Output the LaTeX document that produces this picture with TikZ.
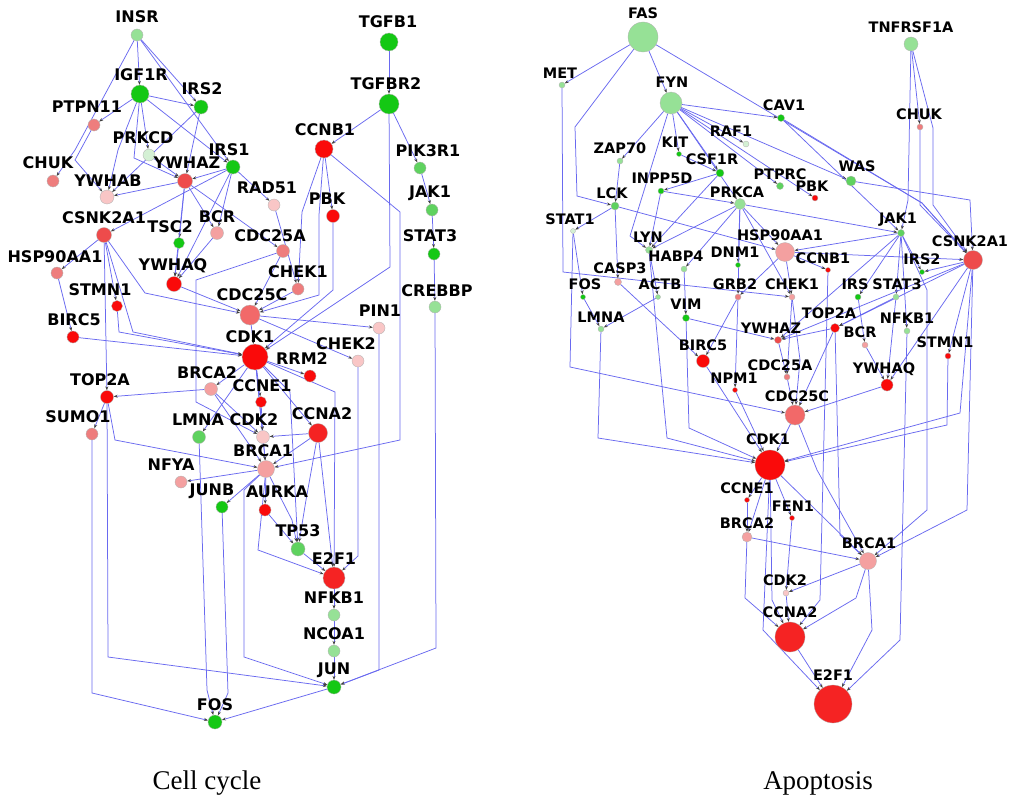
\documentclass[tikz,border=0pt]{standalone}
\usepackage{fontspec}
\setmainfont{Liberation Serif}
\newfontfamily\labfont{DejaVu Sans}
\usetikzlibrary{arrows.meta}
\definecolor{edgec}{RGB}{105,105,240}
\definecolor{gA}{RGB}{20,200,20}
\definecolor{gB}{RGB}{95,210,95}
\definecolor{gC}{RGB}{150,225,150}
\definecolor{gD}{RGB}{212,240,212}
\definecolor{rA}{RGB}{250,10,10}
\definecolor{rB}{RGB}{238,75,75}
\definecolor{rC}{RGB}{238,125,125}
\definecolor{rD}{RGB}{244,160,160}
\definecolor{rE}{RGB}{249,198,198}
\definecolor{rF}{RGB}{242,105,105}
\definecolor{rG}{RGB}{245,35,35}
\pgfdeclarelayer{bg}
\pgfsetlayers{bg,main}
\tikzset{
  gene/.style={circle, inner sep=0pt, draw=black!30, line width=0.3pt},
  lab/.style={font=\labfont\bfseries\fontsize{16}{16}\selectfont, inner sep=0pt, text=black},
  ed/.style={draw=edgec, line width=0.75pt, -{Stealth[length=4pt,width=3pt,color=black!75]}},
  captext/.style={font=\fontsize{27}{28}\selectfont, inner sep=0pt, anchor=base}
}
\newcommand{\genenode}[8]{%
  \node[gene,minimum size=#4pt,fill=#5] (#1) at (#2,#3) {};
  \node[lab] (l#1) at (#6,#7) {#8};}
\newcommand{\edg}[2]{\draw[ed] (#1) -- (#2);}
\begin{document}
\begin{tikzpicture}[x=1pt,y=-1pt]
\useasboundingbox (0,0) rectangle (1012,800);
\begin{pgfonlayer}{bg}
\fill[white] (0,0) rectangle (1012,800);
\end{pgfonlayer}
% ---------------- Cell cycle ----------------
\genenode{aINSR}{137}{35}{12}{gC}{137}{17}{INSR}
\genenode{aIGF1R}{140}{94}{18}{gA}{141}{75}{IGF1R}
\genenode{aIRS2}{201}{107}{14}{gA}{202}{89}{IRS2}
\genenode{aPTPN11}{94}{125}{12}{rC}{87}{107}{PTPN11}
\genenode{aPRKCD}{149}{155}{12}{gD}{143}{138}{PRKCD}
\genenode{aIRS1}{233}{167}{14}{gA}{229}{150}{IRS1}
\genenode{aYWHAZ}{185}{181}{15}{rB}{187}{163}{YWHAZ}
\genenode{aCHUK}{53}{181}{12}{rC}{48}{163}{CHUK}
\genenode{aYWHAB}{107}{197}{14}{rE}{108}{181}{YWHAB}
\genenode{aRAD51}{274}{205}{12}{rE}{267}{188}{RAD51}
\genenode{aPBK}{333}{216}{13}{rA}{327}{199}{PBK}
\genenode{aCSNK2A1}{104}{235}{15}{rB}{104}{218}{CSNK2A1}
\genenode{aTSC2}{179}{243}{11}{gA}{170}{227}{TSC2}
\genenode{aBCR}{217}{233}{13}{rD}{217}{217}{BCR}
\genenode{aCDC25A}{283}{251}{13}{rC}{270}{236}{CDC25A}
\genenode{aHSP90AA1}{57}{273}{12}{rC}{55}{257}{HSP90AA1}
\genenode{aYWHAQ}{174}{284}{15}{rA}{173}{266}{YWHAQ}
\genenode{aCHEK1}{298}{289}{12}{rC}{298}{272}{CHEK1}
\genenode{aSTMN1}{117}{306}{11}{rA}{100}{290}{STMN1}
\genenode{aCDC25C}{250}{315}{20}{rF}{252}{295}{CDC25C}
\genenode{aBIRC5}{73}{337}{12}{rA}{74}{320}{BIRC5}
\genenode{aPIN1}{379}{328}{12}{rE}{380}{311}{PIN1}
\genenode{aCDK1}{255}{357}{26}{rA}{250}{337}{CDK1}
\genenode{aCHEK2}{358}{361}{12}{rE}{346}{344}{CHEK2}
\genenode{aRRM2}{310}{376}{12}{rA}{302}{359}{RRM2}
\genenode{aTOP2A}{107}{397}{13}{rA}{100}{380}{TOP2A}
\genenode{aBRCA2}{211}{389}{13}{rD}{207}{373}{BRCA2}
\genenode{aCCNE1}{261}{402}{11}{rA}{262}{386}{CCNE1}
\genenode{aSUMO1}{92}{434}{12}{rC}{78}{417}{SUMO1}
\genenode{aLMNA}{199}{437}{13}{gB}{198}{420}{LMNA}
\genenode{aCDK2}{263}{437}{13}{rE}{254}{420}{CDK2}
\genenode{aCCNA2}{318}{433}{19}{rG}{322}{414}{CCNA2}
\genenode{aBRCA1}{266}{469}{17}{rD}{263}{451}{BRCA1}
\genenode{aNFYA}{181}{482}{12}{rD}{171}{465}{NFYA}
\genenode{aJUNB}{222}{507}{12}{gA}{212}{491}{JUNB}
\genenode{aAURKA}{265}{510}{12}{rA}{277}{492}{AURKA}
\genenode{aTP53}{298}{549}{14}{gB}{298}{531}{TP53}
\genenode{aE2F1}{334}{578}{22}{rG}{334}{559}{E2F1}
\genenode{aNFKB1}{334}{615}{12}{gC}{334}{598}{NFKB1}
\genenode{aNCOA1}{334}{651}{12}{gC}{334}{634}{NCOA1}
\genenode{aJUN}{334}{687}{14}{gA}{334}{670}{JUN}
\genenode{aFOS}{215}{722}{14}{gA}{215}{705}{FOS}
\genenode{aTGFB1}{389}{42}{18}{gA}{388}{22}{TGFB1}
\genenode{aTGFBR2}{389}{104}{20}{gA}{386}{84}{TGFBR2}
\genenode{aCCNB1}{324}{149}{18}{rA}{325}{130}{CCNB1}
\genenode{aPIK3R1}{420}{168}{12}{gB}{428}{151}{PIK3R1}
\genenode{aJAK1}{432}{210}{12}{gB}{430}{193}{JAK1}
\genenode{aSTAT3}{434}{254}{12}{gA}{430}{236}{STAT3}
\genenode{aCREBBP}{435}{307}{12}{gC}{437}{291}{CREBBP}
\begin{pgfonlayer}{bg}
\edg{aINSR}{aIGF1R}
\edg{aINSR}{aIRS2}
\edg{aINSR}{aIRS1}
\draw[ed] (aINSR) -- (75,150) -- (aCHUK);
\edg{aIGF1R}{aPTPN11}
\draw[ed] (aPTPN11) -- (75,160) -- (aYWHAB);
\edg{aIGF1R}{aIRS2}
\edg{aIGF1R}{aPRKCD}
\draw[ed] (aIGF1R) -- (134,158) -- (aYWHAZ);
\draw[ed] (aIGF1R) -- (118,150) -- (aYWHAB);
\edg{aIGF1R}{aIRS1}
\edg{aIRS2}{aYWHAB}
\edg{aIRS2}{aYWHAZ}
\edg{aPRKCD}{aYWHAZ}
\edg{aYWHAZ}{aYWHAB}
\edg{aIRS1}{aYWHAZ}
\edg{aIRS1}{aCSNK2A1}
\edg{aIRS1}{aRAD51}
\edg{aIRS1}{aBCR}
\edg{aIRS1}{aYWHAQ}
\edg{aYWHAZ}{aTSC2}
\edg{aYWHAZ}{aBCR}
\edg{aYWHAZ}{aCDC25A}
\edg{aYWHAZ}{aYWHAQ}
\edg{aTSC2}{aYWHAQ}
\edg{aBCR}{aYWHAQ}
\edg{aCSNK2A1}{aHSP90AA1}
\edg{aCSNK2A1}{aSTMN1}
\edg{aCSNK2A1}{aTOP2A}
\draw[ed] (aCSNK2A1) -- (133,332) -- (aCDK1);
\draw[ed] (aCSNK2A1) -- (145,293) -- (aCDC25C);
\edg{aHSP90AA1}{aBIRC5}
\draw[ed] (aSTMN1) -- (119,332) -- (aCDK1);
\edg{aBIRC5}{aCDK1}
\edg{aYWHAQ}{aCDC25C}
\draw[ed] (aCDC25A) -- (196,280) -- (196,402) -- (aCDK2);
\edg{aCDC25A}{aCDC25C}
\edg{aRAD51}{aCHEK1}
\edg{aCHEK1}{aCDC25C}
\edg{aTGFB1}{aTGFBR2}
\edg{aTGFBR2}{aCCNB1}
\edg{aTGFBR2}{aPIK3R1}
\edg{aPIK3R1}{aJAK1}
\edg{aJAK1}{aSTAT3}
\edg{aSTAT3}{aCREBBP}
\draw[ed] (aTGFBR2) -- (390,267) -- (aCDK1);
\edg{aCCNB1}{aPBK}
\draw[ed] (aCCNB1) -- (302,212) -- (aCHEK1);
\draw[ed] (aCCNB1) -- (319,215) -- (319,295) -- (aCDC25C);
\draw[ed] (aPBK) -- (333,290) -- (aCDK1);
\draw[ed] (aCCNB1) -- (400,212) -- (400,440) -- (aBRCA1);
\edg{aCDC25C}{aCDK1}
\edg{aCDC25C}{aPIN1}
\edg{aCDC25C}{aCHEK2}
\edg{aCDK1}{aRRM2}
\edg{aCDK1}{aBRCA2}
\edg{aCDK1}{aCCNE1}
\edg{aCDK1}{aCDK2}
\edg{aCDK1}{aCCNA2}
\edg{aCDK1}{aBRCA1}
\edg{aCDK1}{aLMNA}
\edg{aBRCA2}{aTOP2A}
\edg{aBRCA2}{aBRCA1}
\edg{aBRCA2}{aCDK2}
\edg{aTOP2A}{aSUMO1}
\draw[ed] (aTOP2A) -- (115,440) -- (aBRCA1);
\edg{aCCNE1}{aCDK2}
\edg{aCDK2}{aBRCA1}
\edg{aCCNA2}{aCDK2}
\edg{aCCNA2}{aBRCA1}
\edg{aBRCA1}{aNFYA}
\edg{aBRCA1}{aJUNB}
\edg{aBRCA1}{aAURKA}
\edg{aAURKA}{aTP53}
\draw[ed] (aBRCA1) -- (292,520) -- (aTP53);
\draw[ed] (aCCNA2) -- (306,500) -- (aTP53);
\draw[ed] (aCDK1) -- (290,392) -- (aTP53);
\draw[ed] (aBRCA1) -- (258,550) -- (aE2F1);
\edg{aCCNA2}{aE2F1}
\draw[ed] (aCHEK2) -- (358,556) -- (aE2F1);
\draw[ed] (aCDK1) -- (335,392) -- (aE2F1);
\edg{aTP53}{aE2F1}
\edg{aE2F1}{aNFKB1}
\edg{aNFKB1}{aNCOA1}
\edg{aNCOA1}{aJUN}
\draw[ed] (aPIN1) -- (379,670) -- (aJUN);
\draw[ed] (aCREBBP) -- (436,648) -- (aJUN);
\draw[ed] (aBRCA1) -- (244,490) -- (244,657) -- (aJUN);
\draw[ed] (aTOP2A) -- (108,657) -- (aJUN);
\draw[ed] (aSUMO1) -- (92,693) -- (aFOS);
\edg{aJUN}{aFOS}
\draw[ed] (aJUNB) -- (228,693) -- (aFOS);
\draw[ed] (aLMNA) -- (207,690) -- (aFOS);
\end{pgfonlayer}
% ---------------- Apoptosis ----------------
\begin{scope}[lab/.style={font=\labfont\bfseries\fontsize{14.5}{15}\selectfont, inner sep=0pt, text=black}]
\genenode{bFAS}{643}{37}{30}{gC}{643}{13}{FAS}
\genenode{bMET}{562}{85}{6}{gC}{560}{73}{MET}
\genenode{bFYN}{671}{103}{22}{gC}{672}{82}{FYN}
\genenode{bTNFRSF1A}{911}{44}{14}{gC}{911}{27}{TNFRSF1A}
\genenode{bCAV1}{781}{118}{7}{gA}{784}{105}{CAV1}
\genenode{bCHUK}{920}{127}{6}{rC}{919}{114}{CHUK}
\genenode{bRAF1}{746}{144}{6}{gD}{731}{131}{RAF1}
\genenode{bZAP70}{620}{161}{6}{gC}{620}{148}{ZAP70}
\genenode{bKIT}{679}{154}{5}{gA}{675}{142}{KIT}
\genenode{bCSF1R}{720}{173}{8}{gA}{712}{159}{CSF1R}
\genenode{bPTPRC}{780}{186}{7}{gB}{780}{174}{PTPRC}
\genenode{bPBK}{815}{198}{6}{rA}{812}{186}{PBK}
\genenode{bWAS}{851}{181}{10}{gB}{857}{166}{WAS}
\genenode{bINPP5D}{661}{191}{6}{gA}{662}{178}{INPP5D}
\genenode{bPRKCA}{740}{204}{11}{gC}{737}{192}{PRKCA}
\genenode{bLCK}{615}{206}{8}{gB}{612}{193}{LCK}
\genenode{bSTAT1}{573}{231}{5}{gD}{570}{219}{STAT1}
\genenode{bJAK1}{901}{233}{7}{gB}{898}{220}{JAK1}
\genenode{bHSP90AA1}{785}{252}{19}{rD}{780}{235}{HSP90AA1}
\genenode{bLYN}{649}{250}{7}{gC}{648}{237}{LYN}
\genenode{bHABP4}{684}{269}{6}{gC}{676}{256}{HABP4}
\genenode{bDNM1}{738}{265}{5}{gA}{735}{252}{DNM1}
\genenode{bCCNB1}{828}{270}{5}{rA}{823}{258}{CCNB1}
\genenode{bIRS2}{922}{272}{5}{gA}{922}{259}{IRS2}
\genenode{bCSNK2A1}{973}{260}{19}{rB}{970}{241}{CSNK2A1}
\genenode{bCASP3}{618}{282}{7}{rD}{620}{268}{CASP3}
\genenode{bFOS}{583}{297}{5}{gA}{585}{284}{FOS}
\genenode{bACTB}{658}{297}{5}{gC}{660}{284}{ACTB}
\genenode{bGRB2}{738}{297}{6}{rC}{735}{284}{GRB2}
\genenode{bCHEK1}{792}{297}{6}{rD}{792}{284}{CHEK1}
\genenode{bIRS}{858}{297}{6}{gA}{855}{284}{IRS}
\genenode{bSTAT3}{896}{297}{6}{gC}{897}{284}{STAT3}
\genenode{bTOP2A}{835}{328}{9}{rA}{829}{313}{TOP2A}
\genenode{bNFKB1}{907}{331}{6}{gC}{907}{318}{NFKB1}
\genenode{bLMNA}{601}{329}{6}{gC}{601}{317}{LMNA}
\genenode{bVIM}{686}{318}{7}{gA}{686}{304}{VIM}
\genenode{bYWHAZ}{778}{340}{7}{rB}{771}{328}{YWHAZ}
\genenode{bBCR}{865}{345}{6}{rD}{860}{332}{BCR}
\genenode{bBIRC5}{703}{361}{13}{rA}{703}{345}{BIRC5}
\genenode{bSTMN1}{948}{356}{6}{rA}{945}{342}{STMN1}
\genenode{bCDC25A}{787}{377}{6}{rC}{780}{365}{CDC25A}
\genenode{bNPM1}{735}{390}{5}{rA}{734}{378}{NPM1}
\genenode{bYWHAQ}{887}{385}{12}{rA}{884}{369}{YWHAQ}
\genenode{bCDC25C}{795}{415}{20}{rF}{797}{396}{CDC25C}
\genenode{bCDK1}{770}{465}{30}{rA}{768}{439}{CDK1}
\genenode{bCCNE1}{747}{500}{5}{rA}{747}{488}{CCNE1}
\genenode{bFEN1}{792}{518}{5}{rA}{793}{506}{FEN1}
\genenode{bBRCA2}{747}{537}{10}{rD}{747}{523}{BRCA2}
\genenode{bBRCA1}{868}{561}{17}{rD}{869}{543}{BRCA1}
\genenode{bCDK2}{786}{593}{6}{rE}{785}{580}{CDK2}
\genenode{bCCNA2}{790}{637}{30}{rG}{790}{612}{CCNA2}
\genenode{bE2F1}{833}{704}{38}{rG}{833}{675}{E2F1}
\end{scope}
\begin{pgfonlayer}{bg}
\edg{bFAS}{bMET}
\edg{bFAS}{bFYN}
\draw[ed] (bFAS) -- (575,127) -- (577,196) -- (bLCK);
\draw[ed] (bFAS) -- (922,203) -- (bCSNK2A1);
\draw[ed] (bMET) -- (563,272) -- (bCHEK1);
\draw[ed] (bSTAT1) -- (570,367) -- (bCDC25C);
\edg{bFYN}{bZAP70}
\edg{bFYN}{bKIT}
\edg{bFYN}{bCSF1R}
\edg{bFYN}{bRAF1}
\edg{bFYN}{bCAV1}
\edg{bFYN}{bPTPRC}
\edg{bFYN}{bWAS}
\edg{bFYN}{bPRKCA}
\edg{bFYN}{bPBK}
\draw[ed] (bFYN) -- (630,236) -- (bLYN);
\edg{bTNFRSF1A}{bCHUK}
\draw[ed] (bTNFRSF1A) -- (908,200) -- (bJAK1);
\draw[ed] (bTNFRSF1A) -- (933,128) -- (933,205) -- (bCSNK2A1);
\draw[ed] (bCHUK) -- (920,205) -- (bCSNK2A1);
\edg{bCAV1}{bJAK1}
\draw[ed] (bCAV1) -- (922,203) -- (bCSNK2A1);
\edg{bZAP70}{bLCK}
\edg{bKIT}{bCSF1R}
\edg{bCSF1R}{bINPP5D}
\edg{bCSF1R}{bLYN}
\edg{bINPP5D}{bPRKCA}
\edg{bINPP5D}{bLYN}
\edg{bLCK}{bSTAT1}
\edg{bLCK}{bCASP3}
\edg{bLCK}{bHSP90AA1}
\draw[ed] (bWAS) -- (970,200) -- (bCSNK2A1);
\edg{bPRKCA}{bHSP90AA1}
\edg{bPRKCA}{bDNM1}
\edg{bPRKCA}{bGRB2}
\edg{bPRKCA}{bCHEK1}
\edg{bPRKCA}{bHABP4}
\edg{bPRKCA}{bLYN}
\edg{bPRKCA}{bJAK1}
\edg{bSTAT1}{bFOS}
\edg{bFOS}{bLMNA}
\edg{bACTB}{bLMNA}
\edg{bLYN}{bACTB}
\edg{bCASP3}{bBIRC5}
\edg{bHABP4}{bVIM}
\edg{bVIM}{bYWHAZ}
\edg{bGRB2}{bBIRC5}
\edg{bGRB2}{bNPM1}
\edg{bNPM1}{bCDK1}
\edg{bBIRC5}{bCDK1}
\draw[ed] (bLMNA) -- (598,438) -- (bCDK1);
\draw[ed] (bLYN) -- (667,438) -- (bCDK1);
\draw[ed] (bVIM) -- (689,428) -- (bCDK1);
\edg{bHSP90AA1}{bCCNB1}
\edg{bHSP90AA1}{bCHEK1}
\edg{bHSP90AA1}{bGRB2}
\edg{bHSP90AA1}{bCSNK2A1}
\edg{bJAK1}{bHSP90AA1}
\edg{bJAK1}{bIRS}
\edg{bJAK1}{bSTAT3}
\edg{bJAK1}{bIRS2}
\edg{bJAK1}{bNFKB1}
\edg{bJAK1}{bYWHAZ}
\draw[ed] (bJAK1) -- (927,290) -- (927,510) -- (bBRCA1);
\edg{bCSNK2A1}{bIRS2}
\edg{bCSNK2A1}{bYWHAZ}
\edg{bCSNK2A1}{bTOP2A}
\edg{bCSNK2A1}{bYWHAQ}
\edg{bCSNK2A1}{bSTMN1}
\draw[ed] (bCSNK2A1) -- (967,510) -- (bBRCA1);
\draw[ed] (bCSNK2A1) -- (960,413) -- (bCDK1);
\draw[ed] (bSTMN1) -- (947,425) -- (bCDK1);
\draw[ed] (bCCNB1) -- (820,600) -- (bCCNA2);
\edg{bCHEK1}{bCDC25A}
\draw[ed] (bCHEK1) -- (800,360) -- (bCDC25C);
\edg{bIRS}{bBCR}
\edg{bSTAT3}{bTOP2A}
\edg{bSTAT3}{bYWHAQ}
\edg{bBCR}{bYWHAQ}
\draw[ed] (bNFKB1) -- (900,640) -- (bE2F1);
\edg{bTOP2A}{bYWHAZ}
\edg{bTOP2A}{bCDC25C}
\draw[ed] (bTOP2A) -- (840,535) -- (bBRCA1);
\edg{bYWHAZ}{bCDC25A}
\edg{bCDC25A}{bCDC25C}
\edg{bYWHAQ}{bCDC25C}
\edg{bCDC25C}{bCDK1}
\draw[ed] (bCDC25C) -- (817,470) -- (bBRCA1);
\edg{bCDK1}{bCCNE1}
\edg{bCDK1}{bFEN1}
\edg{bCDK1}{bBRCA2}
\edg{bCDK1}{bBRCA1}
\draw[ed] (bCDK1) -- (772,600) -- (bCCNA2);
\draw[ed] (bCDK1) -- (763,630) -- (bE2F1);
\edg{bCCNE1}{bBRCA2}
\edg{bFEN1}{bCDK2}
\edg{bBRCA2}{bBRCA1}
\draw[ed] (bBRCA2) -- (745,598) -- (bCCNA2);
\edg{bBRCA1}{bCDK2}
\draw[ed] (bBRCA1) -- (856,598) -- (bCCNA2);
\draw[ed] (bBRCA1) -- (872,630) -- (bE2F1);
\edg{bCDK2}{bCCNA2}
\edg{bCCNA2}{bE2F1}
\end{pgfonlayer}
\node[captext] (capA) at (207,789) {Cell cycle};
\node[captext] (capB) at (818,789) {Apoptosis};
\end{tikzpicture}
\end{document}
